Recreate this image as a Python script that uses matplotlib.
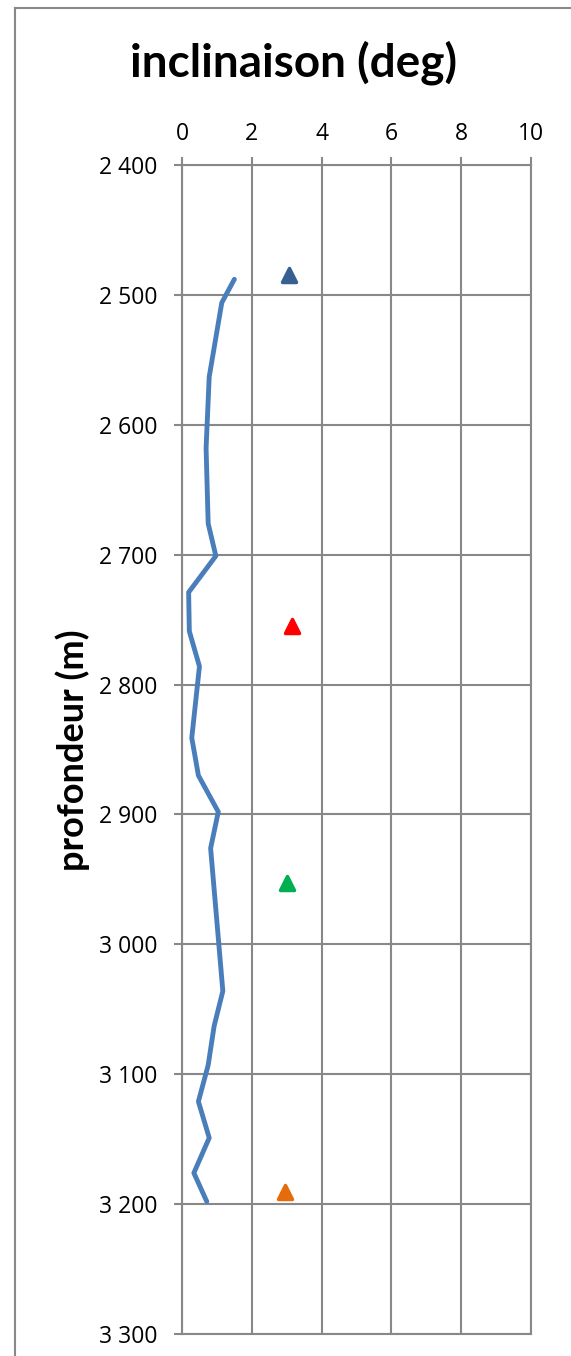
import matplotlib
matplotlib.use('Agg')
import matplotlib.pyplot as plt
from matplotlib.lines import Line2D
from matplotlib.markers import MarkerStyle

plt.rcParams['font.family'] = ['Lato', 'DejaVu Sans']

# inclinaison mesurée le long du puits
depth = [2488, 2506, 2563, 2618, 2676, 2701, 2729, 2759, 2786, 2841, 2870,
         2898, 2926, 3036, 3063, 3093, 3121, 3149, 3176, 3198]
incl = [1.50, 1.14, 0.78, 0.69, 0.75, 0.97, 0.19, 0.21, 0.50, 0.28, 0.47,
        1.04, 0.82, 1.17, 0.92, 0.75, 0.47, 0.78, 0.34, 0.71]

# points isolés (triangles)
pt_depth = [2485, 2755, 2953, 3191]
pt_incl = [3.07, 3.14, 3.00, 2.95]
pt_colors = ['#36608f', '#ff0000', '#00b050', '#e46c0a']

x_ticks = [0, 2, 4, 6, 8, 10]
y_ticks = [2400, 2500, 2600, 2700, 2800, 2900, 3000, 3100, 3200, 3300]
y_labels = ['2 400', '2 500', '2 600', '2 700', '2 800', '2 900',
            '3 000', '3 100', '3 200', '3 300']

W, H = 571, 1356
fig = plt.figure(figsize=(W / 100, H / 100), dpi=100)
ax = fig.add_axes([182 / W, 1 - 1334 / H, (531 - 182) / W, (1334 - 165) / H])

grey = '#888888'
ax.plot(incl, depth, color='#4a7ebb', lw=3.5, solid_joinstyle='round',
        solid_capstyle='round', zorder=3)
tri = MarkerStyle('^', joinstyle='round')
for x, y, c in zip(pt_incl, pt_depth, pt_colors):
    ax.plot(x, y, marker=tri, ms=10.5, color=c, mec=c, mew=2.5,
            linestyle='none', zorder=4)

ax.set_xlim(0, 10)
ax.set_ylim(3300, 2400)
ax.set_xticks(x_ticks)
ax.set_yticks(y_ticks)
ax.set_yticklabels(y_labels)
ax.xaxis.tick_top()
ax.tick_params(axis='x', direction='out', length=5.8, width=1.5, color=grey,
               labelsize=16.5, pad=8)
ax.tick_params(axis='y', direction='out', length=5.8, width=1.5, color=grey,
               labelsize=16.5, pad=12)
for lab in ax.get_xticklabels() + ax.get_yticklabels():
    lab.set_family(['Open Sans', 'DejaVu Sans'])
ax.grid(True, color=grey, lw=1.5)
for s in ax.spines.values():
    s.set_color(grey)
    s.set_linewidth(1.5)
ax.set_axisbelow(True)

fig.text(294 / W, 1 - 63 / H, 'inclinaison (deg)', ha='center', va='center',
         fontsize=33, fontweight='bold')
fig.text(73 / W, 1 - 750 / H, 'profondeur (m)', ha='center', va='center',
         rotation=90, fontsize=26, fontweight='bold')

# cadre du graphique
fig.add_artist(Line2D([15 / W, 15 / W], [0, 1 - 8 / H], transform=fig.transFigure,
                      color=grey, lw=1.5))
fig.add_artist(Line2D([15 / W, 1], [1 - 8 / H, 1 - 8 / H], transform=fig.transFigure,
                      color=grey, lw=1.5))

fig.savefig('out.png', dpi=100)
